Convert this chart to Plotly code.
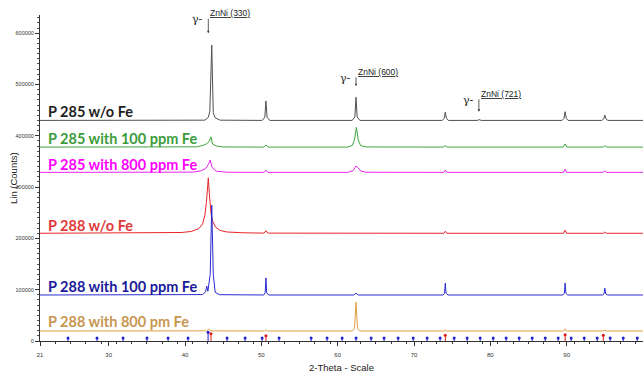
import plotly.graph_objects as go

# ---- data (2-Theta in degrees, intensity in counts) ----
black_x = [21, 42.6, 43.05, 43.25, 43.5, 43.7, 43.95, 44.6, 50.1, 50.45, 50.6, 50.75, 51.1,
           61.9, 62.25, 62.4, 62.55, 62.9, 73.7, 73.95, 74.1, 74.25, 74.5, 78.3, 78.55, 78.8,
           89.4, 89.65, 89.8, 89.95, 90.2, 94.6, 94.85, 95.0, 95.15, 95.4, 100]
black_y = [430000, 430500, 436000, 448000, 577000, 445000, 435000, 430500, 430000, 436000, 468000, 436000, 430000,
           430000, 437000, 475000, 437000, 430000, 430000, 434000, 446000, 434000, 430000, 430000, 431500, 430000,
           430000, 434000, 447000, 434000, 430000, 430000, 433000, 440500, 433000, 430000, 430000]

green_x = [21, 41.5, 42.3, 42.9, 43.2, 43.4, 43.6, 44.1, 45.0, 50.3, 50.6, 50.9,
           61.3, 61.9, 62.2, 62.45, 62.7, 63.0, 63.7, 73.9, 74.1, 74.3, 89.55, 89.8, 90.05, 94.8, 95.0, 95.2, 100]
green_y = [378000, 378500, 381000, 385000, 390000, 398000, 384000, 380000, 378300, 378000, 382000, 378000,
           378000, 381000, 392000, 416500, 392000, 381000, 378300, 378000, 381500, 378000, 378000, 384000, 378000, 378000, 381000, 378000, 378000]

magenta_x = [21, 41.0, 42.0, 42.7, 43.05, 43.3, 43.55, 44.1, 45.5, 50.35, 50.6, 50.85,
             61.3, 62.0, 62.4, 62.65, 63.0, 63.7, 73.9, 74.1, 74.3, 89.6, 89.8, 90.0, 94.8, 95.0, 95.2, 100]
magenta_y = [328700, 329200, 331500, 336000, 344000, 353000, 338000, 331000, 329000, 328700, 333000, 328700,
             328700, 332000, 341000, 338000, 331500, 329000, 328700, 333000, 328700, 328700, 335000, 328700, 328700, 332000, 328700, 328700]

red_x = [21, 37.0, 39.5, 40.8, 41.8, 42.3, 42.6, 42.8, 42.95, 43.05, 43.2, 43.4, 43.6, 44.0, 44.6, 45.5, 47.5,
         50.35, 50.6, 50.85, 73.9, 74.1, 74.3, 89.6, 89.8, 90.0, 94.8, 95.0, 95.2, 100]
red_y = [210000, 210300, 211500, 213500, 219000, 228000, 245000, 270000, 300000, 318000, 285000, 249000, 234000, 222000, 215500, 212500, 211000,
         210300, 215000, 210300, 210000, 214000, 210000, 210000, 216000, 210000, 210000, 212500, 210000, 210000]

blue_x = [21, 42.3, 42.7, 42.85, 43.0, 43.3, 43.5, 43.7, 43.95, 44.5, 50.3, 50.5, 50.6, 50.7, 50.95,
          62.1, 62.4, 62.7, 73.8, 74.0, 74.1, 74.2, 74.45, 89.5, 89.7, 89.8, 89.9, 90.15,
          94.7, 94.9, 95.0, 95.1, 95.35, 100]
blue_y = [89700, 90500, 96000, 107000, 97000, 130000, 265000, 130000, 95000, 90300, 89700, 94000, 123000, 94000, 89700,
          89700, 93000, 89700, 89700, 93000, 113000, 93000, 89700, 89700, 93000, 113000, 93000, 89700,
          89700, 92000, 103000, 92000, 89700, 89700]

orange_x = [21, 42.8, 43.1, 43.4, 50.4, 50.6, 50.8, 61.9, 62.2, 62.4, 62.6, 62.9,
            73.9, 74.1, 74.3, 89.6, 89.8, 90.0, 94.8, 95.0, 95.2, 100]
orange_y = [19500, 19800, 23000, 19800, 19500, 21500, 19500, 19500, 24000, 76000, 24000, 19500,
            19500, 21000, 19500, 19500, 23500, 19500, 19500, 21000, 19500, 19500]

# reference pattern sticks
ref_blue_pos = [24.67, 28.47, 31.88, 35.02, 37.78, 40.40, 43.02, 45.51, 47.87, 50.10, 52.32, 56.52, 58.61,
                60.58, 62.41, 64.38, 66.08, 67.92, 69.89, 71.72, 73.42, 75.26, 76.96, 78.67, 80.37,
                82.07, 83.78, 85.48, 87.19, 88.89, 90.59, 92.30, 94.00, 95.70, 97.41, 99.25]
ref_blue_h = [6000] * 6 + [17000] + [6000] * 29
ref_red_pos = [43.4, 50.6, 74.1, 89.8, 94.8]
ref_red_h = [14000, 10000, 11000, 12000, 11000]

series_names = ["P 285 w/o Fe", "P 285 with 100 ppm Fe", "P 285 with 800 ppm Fe",
                "P 288 w/o Fe", "P 288 with 100 ppm Fe", "P 288 with 800 pm Fe"]
series_x = [black_x, green_x, magenta_x, red_x, blue_x, orange_x]
series_y = [black_y, green_y, magenta_y, red_y, blue_y, orange_y]
label_y = [447000, 395000, 345000, 226000, 106000, 37600]
line_colors = ["#505050", "#3fa63f", "#ee22ee", "#e8242a", "#2a2ad0", "#e0a040"]
text_colors = ["#1e1e1e", "#3c9c3c", "#ff00ff", "#e03a3a", "#1a1a9a", "#c89650"]

peak_labels = ["ZnNi (330)", "ZnNi (600)", "ZnNi (721)"]
peak_pos = [43.05, 62.4, 78.5]
peak_tip = [600000, 497000, 447000]
peak_top = [631000, 517000, 474000]

x_ticks = [21, 30, 40, 50, 60, 70, 80, 90, 100]
y_ticks = [0, 100000, 200000, 300000, 400000, 500000, 600000]

fig = go.Figure()
for xs, ys, c, n in zip(series_x, series_y, line_colors, series_names):
    fig.add_trace(go.Scatter(x=xs, y=ys, mode="lines", line=dict(color=c, width=1), name=n,
                             hoverinfo="skip"))


def sticks(pos, h):
    sx, sy = [], []
    for p, v in zip(pos, h):
        sx += [p, p, None]
        sy += [0, v, None]
    return sx, sy


for pos, h, c in [(ref_blue_pos, ref_blue_h, "#2020d0"), (ref_red_pos, ref_red_h, "#e01818")]:
    sx, sy = sticks(pos, h)
    fig.add_trace(go.Scatter(x=sx, y=sy, mode="lines", line=dict(color=c, width=1), hoverinfo="skip"))
    fig.add_trace(go.Scatter(x=pos, y=h, mode="markers", marker=dict(color=c, size=3), hoverinfo="skip"))

annotations = []
for n, yv, tc in zip(series_names, label_y, text_colors):
    annotations.append(dict(x=21.8, y=yv, xref="x", yref="y", text="<b>" + n + "</b>", showarrow=False,
                            xanchor="left", yanchor="middle",
                            font=dict(family="Lato, 'DejaVu Sans', sans-serif", size=14.5, color=tc)))

for lab, px, tip, top in zip(peak_labels, peak_pos, peak_tip, peak_top):
    annotations.append(dict(x=px, y=tip, ax=px, ay=top, xref="x", yref="y", axref="x", ayref="y",
                            text="", showarrow=True, arrowhead=2, arrowsize=0.6, arrowwidth=0.8,
                            arrowcolor="#333"))
    annotations.append(dict(x=px, y=top, xref="x", yref="y", text="<u>" + lab + "</u>", showarrow=False,
                            xanchor="left", yanchor="bottom", yshift=-3,
                            font=dict(family="Liberation Sans, Arial, sans-serif", size=8.5, color="#222")))
    annotations.append(dict(x=px, y=top, xref="x", yref="y", text="γ-", showarrow=False,
                            xanchor="right", yanchor="top", xshift=-3, yshift=6,
                            font=dict(family="DejaVu Serif, serif", size=11, color="#222")))

# axis titles
annotations.append(dict(x=0, y=0.5, xref="paper", yref="paper", xshift=-27, text="Lin (Counts)",
                        textangle=-90, showarrow=False, xanchor="center", yanchor="middle",
                        font=dict(size=9.5, color="#222", family="Liberation Sans, Arial")))
annotations.append(dict(x=0.5, y=0, xref="paper", yref="paper", yshift=-26, text="2-Theta - Scale",
                        showarrow=False, xanchor="center", yanchor="middle",
                        font=dict(size=9.5, color="#222", family="Liberation Sans, Arial")))

fig.update_layout(
    width=643, height=372,
    margin=dict(l=40, r=0, t=15, b=31),
    paper_bgcolor="white", plot_bgcolor="white",
    showlegend=False,
    annotations=annotations,
    xaxis=dict(range=[21, 100], tickvals=x_ticks, ticktext=[str(v) for v in x_ticks],
               automargin=False,
               showgrid=False, zeroline=False, showline=True, linecolor="#333", linewidth=1,
               ticks="outside", ticklen=4, tickcolor="#333", tickwidth=1, ticklabelstandoff=4,
               minor=dict(tick0=21, dtick=2, ticks="outside", ticklen=2, tickcolor="#333"),
               tickfont=dict(size=6, color="#333", family="Liberation Sans, Arial")),
    yaxis=dict(range=[0, 635500], tickvals=y_ticks, ticktext=[str(v) for v in y_ticks],
               automargin=False,
               showgrid=False, zeroline=False, showline=True, linecolor="#333", linewidth=1,
               ticks="outside", ticklen=4, tickcolor="#333", tickwidth=1,
               minor=dict(dtick=10000, ticks="outside", ticklen=2, tickcolor="#555"),
               tickfont=dict(size=5.5, color="#333", family="Liberation Sans, Arial")),
)

fig.write_html("out.html", config={"displayModeBar": False},
               post_script="document.body.style.margin='0px';document.body.style.overflow='hidden';")
